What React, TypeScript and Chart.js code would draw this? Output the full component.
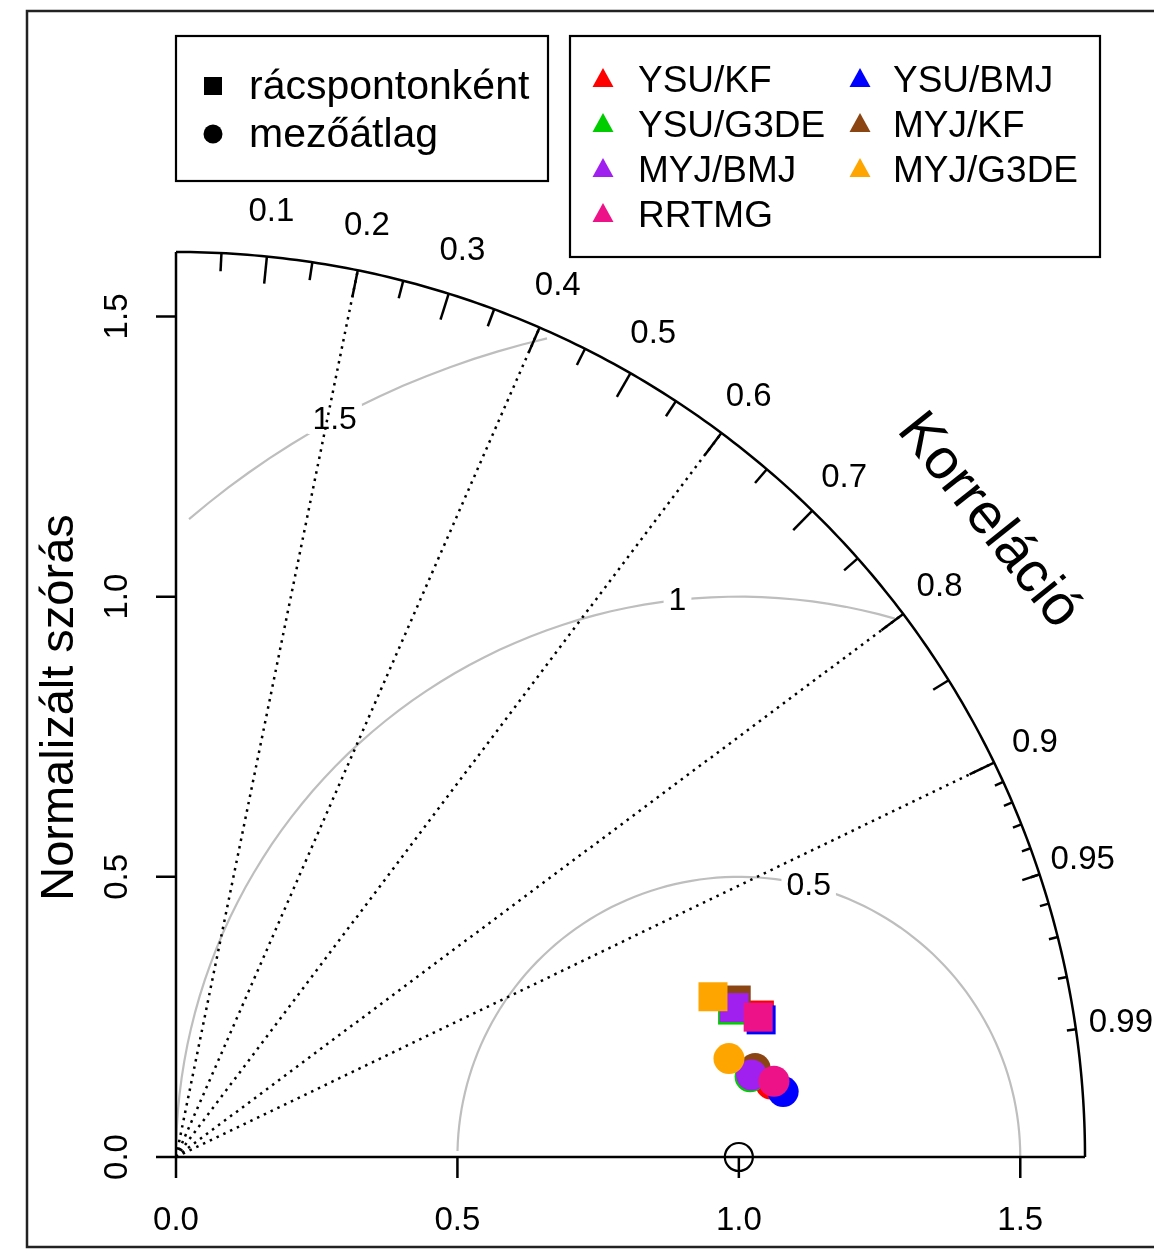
import React, { useEffect, useRef } from 'react';
import { Chart, registerables } from 'chart.js';
Chart.register(...registerables);

// ---- data ----
const models = ['YSU/KF', 'YSU/BMJ', 'YSU/G3DE', 'MYJ/KF', 'MYJ/BMJ', 'MYJ/G3DE', 'RRTMG'];
const modelColors = ['#FF0000', '#0000FF', '#00CD00', '#8B4513', '#A020F0', '#FFA500', '#EE1289'];
// rácspontonként (grid-point wise): normalized SD and correlation
const gridSd = [1.067, 1.068, 1.023, 1.034, 1.027, 0.996, 1.064];
const gridCorr = [0.9714, 0.9734, 0.9666, 0.9626, 0.9657, 0.9579, 0.9721];
// mezőátlag (field mean): normalized SD and correlation
const meanSd = [1.065, 1.085, 1.030, 1.041, 1.033, 0.998, 1.071];
const meanCorr = [0.9925, 0.9942, 0.9903, 0.9884, 0.9899, 0.9844, 0.992];
const refSd = 1.0;
const maxSd = 1.615;
const sdTicks = [0, 0.5, 1.0, 1.5];
const sdTickLabels = ['0.0', '0.5', '1.0', '1.5'];
const corrLabels = [0.1, 0.2, 0.3, 0.4, 0.5, 0.6, 0.7, 0.8, 0.9, 0.95, 0.99];
const corrBigTicks = [0.1, 0.2, 0.3, 0.4, 0.5, 0.6, 0.7, 0.8, 0.9];
const corrMedTicks = [0.05, 0.15, 0.25, 0.35, 0.45, 0.55, 0.65, 0.75, 0.85, 0.95];
const corrSmallTicks = [0.91, 0.92, 0.93, 0.94, 0.95, 0.96, 0.97, 0.98, 0.99];
const corrLines = [0.2, 0.4, 0.6, 0.8, 0.9];
const rmsContours = [0.5, 1, 1.5];
const legendLeftLabels = ['rácspontonként', 'mezőátlag'];
const legendRightCol1 = [0, 2, 4, 6];
const legendRightCol2 = [1, 3, 5];

const FONT = '"Liberation Sans", Arial, sans-serif';

const taylorPlugin = {
  id: 'taylor',
  beforeDatasetsDraw(chart: any) {
    const ctx = chart.ctx as CanvasRenderingContext2D;
    const xs = chart.scales.x;
    const ys = chart.scales.y;
    const X = (v: number) => xs.getPixelForValue(v);
    const Y = (v: number) => ys.getPixelForValue(v);
    ctx.save();

    // RMS contours
    const labelIdx = [44, 56, 69];
    rmsContours.forEach((g, gi) => {
      const pts: [number, number][] = [];
      for (let i = 0; i <= 104; i++) {
        const t = i * 0.03;
        if (t > Math.PI + 1e-9) break;
        pts.push([Math.cos(t) * g + refSd, Math.sin(t) * g]);
      }
      let end = pts.length - 1;
      const neg = pts.findIndex((p) => p[0] < 0);
      if (neg >= 0) end = neg - 1;
      let start = 0;
      pts.forEach((p, i) => {
        if (p[0] * p[0] + p[1] * p[1] > maxSd * maxSd) start = i + 1;
      });
      ctx.strokeStyle = '#BEBEBE';
      ctx.lineWidth = 2.2;
      ctx.setLineDash([]);
      ctx.beginPath();
      for (let i = start; i <= end; i++) {
        const px = X(pts[i][0]);
        const py = Y(pts[i][1]);
        if (i === start) ctx.moveTo(px, py);
        else ctx.lineTo(px, py);
      }
      ctx.stroke();
      // label
      const lp = pts[labelIdx[gi]];
      const lx = X(lp[0]);
      const ly = Y(lp[1]);
      ctx.font = `32px ${FONT}`;
      const txt = String(g);
      const w = ctx.measureText(txt).width;
      ctx.fillStyle = '#ffffff';
      ctx.fillRect(lx - w / 2 - 5, ly - 15, w + 10, 30);
      ctx.fillStyle = '#000000';
      ctx.textAlign = 'center';
      ctx.textBaseline = 'middle';
      ctx.fillText(txt, lx, ly + 1);
    });

    // dotted correlation lines
    ctx.strokeStyle = '#000000';
    ctx.lineWidth = 2.5;
    ctx.setLineDash([2.5, 5]);
    corrLines.forEach((c) => {
      const s = Math.sqrt(1 - c * c);
      ctx.beginPath();
      ctx.moveTo(X(0), Y(0));
      ctx.lineTo(X(maxSd * c), Y(maxSd * s));
      ctx.stroke();
    });
    ctx.setLineDash([]);

    // outer arc
    ctx.lineWidth = 2.5;
    ctx.beginPath();
    for (let i = 0; i <= 200; i++) {
      const a = (i / 200) * (Math.PI / 2);
      const px = X(maxSd * Math.cos(a));
      const py = Y(maxSd * Math.sin(a));
      if (i === 0) ctx.moveTo(px, py);
      else ctx.lineTo(px, py);
    }
    ctx.stroke();

    // arc ticks
    const drawTicks = (vals: number[], frac: number) => {
      vals.forEach((c) => {
        const s = Math.sqrt(1 - c * c);
        ctx.beginPath();
        ctx.moveTo(X(maxSd * c), Y(maxSd * s));
        ctx.lineTo(X(maxSd * (1 - frac) * c), Y(maxSd * (1 - frac) * s));
        ctx.stroke();
      });
    };
    drawTicks(corrBigTicks, 0.03);
    drawTicks(corrMedTicks, 0.02);
    drawTicks(corrSmallTicks, 0.01);

    // correlation labels
    ctx.font = `33px ${FONT}`;
    ctx.fillStyle = '#000000';
    ctx.textAlign = 'center';
    ctx.textBaseline = 'middle';
    corrLabels.forEach((c) => {
      const s = Math.sqrt(1 - c * c);
      ctx.fillText(String(c), X(maxSd * 1.05 * c), Y(maxSd * 1.05 * s));
    });

    // axes
    ctx.lineWidth = 2.5;
    ctx.beginPath();
    ctx.moveTo(X(0), Y(0));
    ctx.lineTo(X(maxSd), Y(0));
    ctx.moveTo(X(0), Y(0));
    ctx.lineTo(X(0), Y(maxSd));
    ctx.stroke();
    sdTicks.forEach((v, i) => {
      ctx.beginPath();
      ctx.moveTo(X(v), Y(0));
      ctx.lineTo(X(v), Y(0) + 21);
      ctx.moveTo(X(0), Y(v));
      ctx.lineTo(X(0) - 20, Y(v));
      ctx.stroke();
      ctx.font = `33px ${FONT}`;
      ctx.textAlign = 'center';
      ctx.textBaseline = 'middle';
      ctx.fillText(sdTickLabels[i], X(v), Y(0) + 64);
      ctx.save();
      ctx.translate(X(0) - 58, Y(v));
      ctx.rotate(-Math.PI / 2);
      ctx.fillText(sdTickLabels[i], 0, 0);
      ctx.restore();
    });

    // axis titles
    ctx.save();
    ctx.font = `47px ${FONT}`;
    ctx.translate(60, (Y(0) + Y(maxSd)) / 2 + 3);
    ctx.rotate(-Math.PI / 2);
    ctx.textAlign = 'center';
    ctx.textBaseline = 'middle';
    ctx.fillText('Normalizált szórás', 0, 0);
    ctx.restore();

    ctx.save();
    ctx.font = `57px ${FONT}`;
    const ang = (38.2 * Math.PI) / 180;
    ctx.translate(X(maxSd * 1.14 * Math.cos(ang)) - 2, Y(maxSd * 1.14 * Math.sin(ang)) + 2);
    ctx.rotate((51.4 * Math.PI) / 180);
    ctx.textAlign = 'center';
    ctx.textBaseline = 'middle';
    ctx.fillText('Korreláció', 0, 0);
    ctx.restore();

    ctx.restore();
  },
  afterDatasetsDraw(chart: any) {
    const ctx = chart.ctx as CanvasRenderingContext2D;
    ctx.save();
    ctx.strokeStyle = '#000000';
    ctx.lineWidth = 2.2;
    ctx.setLineDash([]);
    // legend 1
    ctx.strokeRect(176, 36, 372, 145);
    ctx.fillStyle = '#000000';
    ctx.fillRect(213 - 9, 86 - 9, 18, 18);
    ctx.beginPath();
    ctx.arc(213, 134, 9.5, 0, Math.PI * 2);
    ctx.fill();
    ctx.font = `41px ${FONT}`;
    ctx.textAlign = 'left';
    ctx.textBaseline = 'middle';
    ctx.fillText(legendLeftLabels[0], 249, 88);
    ctx.fillText(legendLeftLabels[1], 249, 136);

    // legend 2
    ctx.strokeRect(570, 36, 530, 221);
    ctx.font = `37px ${FONT}`;
    const rowY = [82, 127, 172, 217];
    const drawEntry = (idx: number, tx: number, ty: number, txtX: number) => {
      ctx.fillStyle = modelColors[idx];
      ctx.beginPath();
      ctx.moveTo(tx, ty - 10);
      ctx.lineTo(tx + 10.5, ty + 9);
      ctx.lineTo(tx - 10.5, ty + 9);
      ctx.closePath();
      ctx.fill();
      ctx.fillStyle = '#000000';
      ctx.fillText(models[idx], txtX, ty + 4);
    };
    legendRightCol1.forEach((m, i) => drawEntry(m, 603, rowY[i] - 4, 638));
    legendRightCol2.forEach((m, i) => drawEntry(m, 860, rowY[i] - 4, 893));

    // outer frame
    ctx.strokeStyle = '#222222';
    ctx.lineWidth = 2.5;
    ctx.strokeRect(27, 11, 1160, 1236);
    ctx.restore();
  },
};

export default function App() {
  const ref = useRef<HTMLCanvasElement | null>(null);
  useEffect(() => {
    document.body.style.margin = '0';
    const toXY = (sd: number, c: number) => ({ x: sd * c, y: sd * Math.sqrt(1 - c * c) });
    const squareSets = models.map((m, i) => ({
      label: m + ' (rácspontonként)',
      data: [toXY(gridSd[i], gridCorr[i])],
      pointStyle: 'rect',
      pointRadius: 20.5,
      backgroundColor: modelColors[i],
      borderColor: modelColors[i],
      borderWidth: 0,
      showLine: false,
      clip: false,
    }));
    const circleSets = models.map((m, i) => ({
      label: m + ' (mezőátlag)',
      data: [toXY(meanSd[i], meanCorr[i])],
      pointStyle: 'circle',
      pointRadius: 15.5,
      backgroundColor: modelColors[i],
      borderColor: modelColors[i],
      borderWidth: 0,
      showLine: false,
      clip: false,
    }));
    const refSet = {
      label: 'ref',
      data: [{ x: refSd, y: 0 }],
      pointStyle: 'circle',
      pointRadius: 14,
      backgroundColor: 'rgba(0,0,0,0)',
      borderColor: '#000000',
      borderWidth: 2.2,
      showLine: false,
      clip: false,
    };
    // Chart.js draws dataset index 0 last (on top): reverse draw order
    const drawOrder = [...squareSets, ...circleSets, refSet];
    const datasets = drawOrder.slice().reverse();
    const chart = new Chart(ref.current as HTMLCanvasElement, {
      type: 'scatter',
      data: { datasets: datasets as any },
      options: {
        responsive: false,
        animation: false,
        devicePixelRatio: 1,
        events: [],
        layout: { padding: { left: 176, right: 69, top: 252, bottom: 95 } },
        scales: {
          x: { type: 'linear', min: 0, max: maxSd, display: false },
          y: { type: 'linear', min: 0, max: maxSd, display: false },
        },
        plugins: { legend: { display: false }, tooltip: { enabled: false } },
      },
      plugins: [taylorPlugin],
    });
    return () => chart.destroy();
  }, []);
  return (
    <div style={{ width: 1154, height: 1252, background: '#fff' }}>
      <canvas ref={ref} width={1154} height={1252} style={{ display: 'block' }} />
    </div>
  );
}
